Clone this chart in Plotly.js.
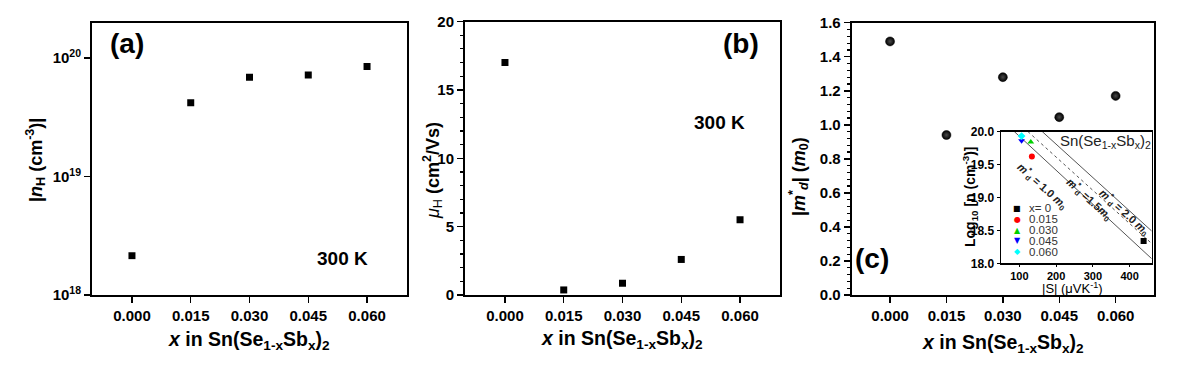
<!DOCTYPE html>
<html>
<head>
<meta charset="utf-8">
<script src="https://cdn.plot.ly/plotly-3.0.1.min.js"></script>
<style>html,body{margin:0;padding:0;background:#fff;}#chart{width:1181px;height:372px;}</style>
</head>
<body>
<div id="chart"></div>
<script>
// ---- data ----
const xVals = [0, 0.015, 0.030, 0.045, 0.060];
const xTickText = ['0.000', '0.015', '0.030', '0.045', '0.060'];
const nH = [2.15e18, 4.2e19, 6.9e19, 7.2e19, 8.5e19];          // cm^-3
const muH = [17.0, 0.37, 0.86, 2.6, 5.5];                        // cm^2/Vs
const mD = [1.49, 0.94, 1.28, 1.045, 1.17];                      // m0
const logTickVals = [1e18, 1e19, 1e20];
const logTickText = ['10<sup>18</sup>', '10<sup>19</sup>', '10<sup>20</sup>'];
// inset (Pisarenko plot)
const insetLabels = ['x= 0', '0.015', '0.030', '0.045', '0.060'];
const insetS = [438, 134, 131, 106, 106];                        // |S| uV/K
const insetLogN = [18.34, 19.62, 19.84, 19.86, 19.93];
const insetColors = ['#000000', '#ff0000', '#00d000', '#0000ff', '#00ffff'];
const insetSymbols = ['square', 'circle', 'triangle-up', 'triangle-down', 'diamond'];
const insetGlyphs = ['■', '●', '▲', '▼', '◆'];
const line10S = [86, 460], line10LogN = [20.0, 18.07];
const line15S = [123, 460], line15LogN = [20.0, 18.30];
const line20S = [162, 460], line20LogN = [20.0, 18.49];

// ---- helpers ----
const W = 1181, H = 372;
const fx = p => p / W;
const fy = p => 1 - p / H;
const FONT = 'Liberation Sans, Arial, sans-serif';

function baseAxis(extra) {
  return Object.assign({
    showline: true, linecolor: '#000', linewidth: 2, mirror: true,
    ticks: 'outside', ticklen: 6, tickwidth: 1.5, tickcolor: '#000',
    showgrid: false, zeroline: false,
    tickfont: {family: FONT, size: 15, color: '#000', weight: 'bold'}
  }, extra);
}
const xRange = [-0.0102, 0.0702];
function xAxis(dom, anchor) {
  return baseAxis({domain: dom, anchor: anchor, range: xRange,
    tickmode: 'array', tickvals: xVals, ticktext: xTickText});
}

const traces = [];
traces.push({x: xVals, y: nH, xaxis: 'x', yaxis: 'y', mode: 'markers', type: 'scatter',
  marker: {symbol: 'square', size: 7, color: '#000'}, showlegend: false});
traces.push({x: xVals, y: muH, xaxis: 'x2', yaxis: 'y2', mode: 'markers', type: 'scatter',
  marker: {symbol: 'square', size: 7, color: '#000'}, showlegend: false});
traces.push({x: xVals, y: mD, xaxis: 'x3', yaxis: 'y3', mode: 'markers', type: 'scatter',
  marker: {symbol: 'circle', size: 9, color: '#000', gradient: {type: 'radial', color: '#4a4a4a'},
    line: {width: 0.5, color: '#000'}}, showlegend: false});
// inset lines
traces.push({x: line10S, y: line10LogN, xaxis: 'x4', yaxis: 'y4', mode: 'lines', type: 'scatter',
  line: {color: '#555', width: 1}, showlegend: false});
traces.push({x: line15S, y: line15LogN, xaxis: 'x4', yaxis: 'y4', mode: 'lines', type: 'scatter',
  line: {color: '#555', width: 1, dash: 'dot'}, showlegend: false});
traces.push({x: line20S, y: line20LogN, xaxis: 'x4', yaxis: 'y4', mode: 'lines', type: 'scatter',
  line: {color: '#555', width: 1}, showlegend: false});
for (let i = 0; i < insetS.length; i++) {
  traces.push({x: [insetS[i]], y: [insetLogN[i]], xaxis: 'x4', yaxis: 'y4', mode: 'markers', type: 'scatter',
    marker: {symbol: insetSymbols[i], size: 6, color: insetColors[i]}, showlegend: false, name: insetLabels[i]});
}

const xTitle = '<b><i>x</i> in Sn(Se<sub>1-x</sub>Sb<sub>x</sub>)<sub>2</sub></b>';
const ann = [];
function addAnn(text, x, y, opts) {
  ann.push(Object.assign({text: text, x: fx(x), y: fy(y), xref: 'paper', yref: 'paper',
    showarrow: false, xanchor: 'center', yanchor: 'middle',
    font: {family: FONT, size: 18, color: '#000'}}, opts || {}));
}
// axis titles
addAnn(xTitle, 249, 340, {font: {family: FONT, size: 19.5, color: '#000'}});
addAnn(xTitle, 622, 339, {font: {family: FONT, size: 19.5, color: '#000'}});
addAnn(xTitle, 1003, 343, {font: {family: FONT, size: 19.5, color: '#000'}});
addAnn('<b>|<i>n</i><sub>H</sub> (cm<sup>-3</sup>)|</b>', 35, 160, {textangle: -90});
addAnn('<i>μ</i><sub>H</sub><b> (cm<sup>2</sup>/Vs)</b>', 432, 171, {textangle: -90});
addAnn('<b>|<i>m</i><sup>*</sup><sub><i>d</i></sub>| (<i>m</i><sub>0</sub>)</b>', 798, 177, {textangle: -90});
// panel labels
addAnn('<b>(a)</b>', 127, 43, {font: {family: FONT, size: 28, color: '#000'}});
addAnn('<b>(b)</b>', 741, 43, {font: {family: FONT, size: 28, color: '#000'}});
addAnn('<b>(c)</b>', 872, 258, {font: {family: FONT, size: 28, color: '#000'}});
addAnn('<b>300 K</b>', 342, 258, {font: {family: FONT, size: 19, color: '#000'}});
addAnn('<b>300 K</b>', 719, 123, {font: {family: FONT, size: 19, color: '#000'}});
// inset texts
addAnn('Sn(Se<sub>1-x</sub>Sb<sub>x</sub>)<sub>2</sub>', 1105, 141, {font: {family: FONT, size: 15, color: '#222'}});
addAnn('<b>Log<sub>10</sub> [n (cm<sup>-3</sup>)]</b>', 970, 197, {textangle: -90, font: {family: FONT, size: 14, color: '#000'}});
addAnn('|S| (μVK<sup>-1</sup>)', 1072, 288, {font: {family: FONT, size: 13, color: '#000'}});
addAnn('<b><i>m</i><sup>*</sup><sub>d</sub> = 1.0 <i>m</i><sub>0</sub></b>', 1042, 186, {textangle: 42, font: {family: FONT, size: 11, color: '#222'}});
addAnn('<b><i>m</i><sup>*</sup><sub>d</sub> =1.5<i>m</i><sub>0</sub></b>', 1089, 199, {textangle: 42, font: {family: FONT, size: 11, color: '#222'}});
addAnn('<b><i>m</i><sup>*</sup><sub>d</sub> = 2.0 <i>m</i><sub>0</sub></b>', 1124, 212, {textangle: 42, font: {family: FONT, size: 11, color: '#222'}});
// inset legend
const legY = [208.5, 219.3, 230, 240.8, 251.6];
for (let i = 0; i < insetLabels.length; i++) {
  addAnn(insetGlyphs[i], 1017, legY[i], {font: {family: 'DejaVu Sans', size: 8, color: insetColors[i]}});
  addAnn(insetLabels[i], 1027, legY[i], {xanchor: 'left', font: {family: FONT, size: 11.5, color: '#333'}});
}

const layout = {
  width: W, height: H, margin: {l: 0, r: 0, t: 0, b: 0},
  paper_bgcolor: '#fff', plot_bgcolor: 'rgba(0,0,0,0)', showlegend: false,
  font: {family: FONT},
  xaxis: xAxis([fx(92), fx(407)], 'y'),
  yaxis: baseAxis({domain: [fy(295), fy(22.7)], anchor: 'x', type: 'log', range: [18, 20.3],
    tickmode: 'array', tickvals: logTickVals, ticktext: logTickText,
    tickfont: {family: FONT, size: 15, color: '#000', weight: 'bold'}}),
  xaxis2: xAxis([fx(465), fx(780)], 'y2'),
  yaxis2: baseAxis({domain: [fy(295), fy(21.5)], anchor: 'x2', range: [0, 20], dtick: 5,
    minor: {dtick: 1, ticks: 'outside', ticklen: 3, tickwidth: 1.2, tickcolor: '#000'}}),
  xaxis3: xAxis([fx(851.7), fx(1154)], 'y3'),
  yaxis3: baseAxis({domain: [fy(295), fy(22.7)], anchor: 'x3', range: [0, 1.6], dtick: 0.2, tickformat: '.1f',
    minor: {dtick: 0.04, ticks: 'outside', ticklen: 3, tickwidth: 1.2, tickcolor: '#000'}}),
  xaxis4: baseAxis({domain: [fx(1001), fx(1151.7)], anchor: 'y4', range: [50, 460], linewidth: 1.5,
    tickmode: 'array', tickvals: [100, 200, 300, 400], ticklen: 2, tickwidth: 1,
    tickfont: {family: FONT, size: 11, color: '#000', weight: 'bold'}}),
  yaxis4: baseAxis({domain: [fy(263.3), fy(131.5)], anchor: 'x4', range: [18, 20], dtick: 0.5, tickformat: '.1f',
    linewidth: 1.5, ticklen: 3, tickwidth: 1,
    tickfont: {family: FONT, size: 12, color: '#000', weight: 'bold'}}),
  annotations: ann
};

Plotly.newPlot('chart', traces, layout, {displayModeBar: false, staticPlot: true});
</script>
</body>
</html>
